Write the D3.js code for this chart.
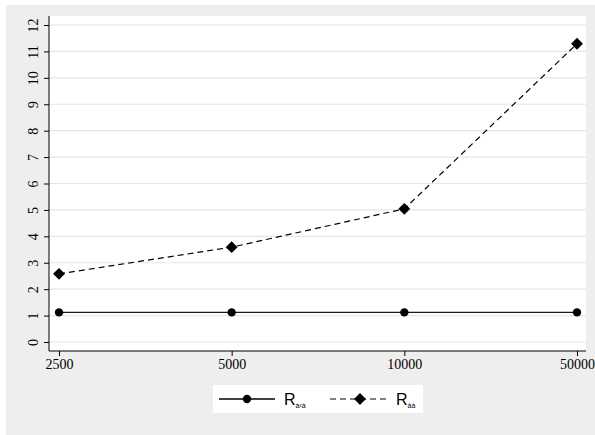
<!DOCTYPE html>
<html><head><meta charset="utf-8">
<script src="https://cdn.jsdelivr.net/npm/d3@7/dist/d3.min.js"></script>
<style>body{margin:0;background:#fff}svg{display:block}
.ax text{font-family:"Liberation Serif","Times New Roman",serif !important;font-size:14px !important;fill:#000}</style>
</head><body>
<script>
const categories = ["2500", "5000", "10000", "50000"];
const seriesA = [1.12, 1.12, 1.12, 1.12];
const seriesB = [2.58, 3.59, 5.04, 11.29];
const yTicks = [0,1,2,3,4,5,6,7,8,9,10,11,12];
const legendLabels = [{main:"R", sub:"à‹à"}, {main:"R", sub:"àà"}];

const W = 595, H = 435;
const svg = d3.select("body").append("svg").attr("width", W).attr("height", H);
svg.append("rect").attr("x",6).attr("y",5).attr("width",W-6).attr("height",H-5).attr("fill","#eeeeee");

const plot = {l:49, r:586, t:16, b:351};
svg.append("rect").attr("x",plot.l).attr("y",plot.t).attr("width",plot.r-plot.l).attr("height",plot.b-plot.t).attr("fill","#fff");

const x = d3.scalePoint().domain(categories).range([59, 577]);
const y = d3.scaleLinear().domain([0,12]).range([342, 25]);

// gridlines
svg.append("g").selectAll("line").data(yTicks).join("line")
  .attr("x1",plot.l).attr("x2",plot.r).attr("y1",d=>y(d)).attr("y2",d=>y(d))
  .attr("stroke","#e6e6e6").attr("stroke-width",1.2);

// axes
const ya = svg.append("g").attr("class","ax").attr("transform",`translate(${plot.l},0)`)
  .call(d3.axisLeft(y).tickValues(yTicks).tickSize(5).tickPadding(4))
  .attr("font-family","Liberation Serif").attr("font-size",14);
ya.select(".domain").attr("d",`M0,${plot.t}V${plot.b}`).attr("stroke","#000");
ya.selectAll(".tick text").attr("transform","rotate(-90)").attr("text-anchor","middle")
  .attr("x",0).attr("dy","0").attr("y",-11);

const xa = svg.append("g").attr("class","ax").attr("transform",`translate(0,${plot.b})`)
  .call(d3.axisBottom(x).tickSize(5).tickPadding(3))
  .attr("font-family","Liberation Serif").attr("font-size",14);
xa.select(".domain").attr("d",`M${plot.l},0H${plot.r}`).attr("stroke","#000");

// series
const line = (vals)=>d3.line().x((d,i)=>x(categories[i])).y(d=>y(d))(vals);
svg.append("path").attr("d",line(seriesA)).attr("fill","none").attr("stroke","#1a1a1a").attr("stroke-width",1.3);
svg.append("path").attr("d",line(seriesB)).attr("fill","none").attr("stroke","#000").attr("stroke-width",1.2).attr("stroke-dasharray","6,4");
const circ = d3.symbol().type(d3.symbolCircle).size(55);
const diam = d3.symbol().type(d3.symbolSquare).size(70);
svg.append("g").selectAll("path").data(seriesA).join("path")
  .attr("d",circ).attr("transform",(d,i)=>`translate(${x(categories[i])},${y(d)})`).attr("fill","#000");
svg.append("g").selectAll("path").data(seriesB).join("path")
  .attr("d",diam).attr("transform",(d,i)=>`translate(${x(categories[i])},${y(d)}) rotate(45)`).attr("fill","#000");

// legend
const lg = svg.append("g");
lg.append("rect").attr("x",213).attr("y",385).attr("width",210).attr("height",28).attr("fill","#fff");
const ly = 399;
lg.append("line").attr("x1",219).attr("x2",275).attr("y1",ly).attr("y2",ly).attr("stroke","#000").attr("stroke-width",1.3);
lg.append("path").attr("d",circ).attr("transform",`translate(247,${ly})`).attr("fill","#000");
lg.append("line").attr("x1",330).attr("x2",388).attr("y1",ly).attr("y2",ly).attr("stroke","#000").attr("stroke-width",1.2).attr("stroke-dasharray","6,4");
lg.append("path").attr("d",diam).attr("transform",`translate(360,${ly}) rotate(45)`).attr("fill","#000");
[[284, legendLabels[0]],[396, legendLabels[1]]].forEach(([lx, lab])=>{
  const t = lg.append("text").attr("x",lx).attr("y",ly+6).style("font-family","'Liberation Sans', Arial, sans-serif").style("font-size","16px").attr("fill","#000");
  t.append("tspan").text(lab.main);
  t.append("tspan").attr("dy",3).style("font-size","7px").text(lab.sub);
});
</script>
</body></html>
